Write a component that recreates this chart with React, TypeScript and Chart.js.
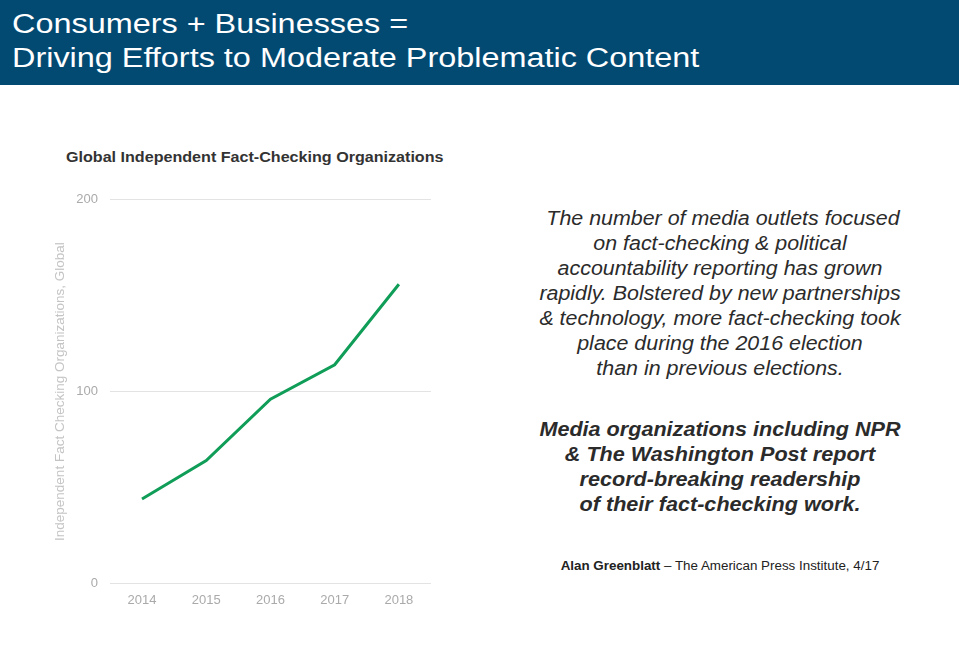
import React, { useEffect, useRef } from "react";
import { Chart, registerables } from "chart.js";

Chart.register(...registerables);

const years = ["2014", "2015", "2016", "2017", "2018"];
const orgCounts = [44, 64, 96, 114, 156];
const yTicks = [0, 100, 200];

const FONT = "Liberation Sans";
const CSS_FONT = '"Liberation Sans", sans-serif';

function LineChart() {
  const ref = useRef<HTMLCanvasElement | null>(null);
  useEffect(() => {
    if (!ref.current) return;
    const chart = new Chart(ref.current, {
      type: "line",
      data: {
        labels: years,
        datasets: [
          {
            label: "Independent Fact Checking Organizations, Global",
            data: orgCounts,
            borderColor: "#0f9d58",
            backgroundColor: "#0f9d58",
            borderWidth: 3,
            pointRadius: 0,
            tension: 0,
          },
        ],
      },
      options: {
        animation: false,
        responsive: false,
        maintainAspectRatio: false,
        layout: { padding: { top: 16, left: 1, right: 9, bottom: 0 } },
        plugins: { legend: { display: false }, tooltip: { enabled: false } },
        scales: {
          x: {
            offset: true,
            grid: { display: false },
            border: { display: false },
            ticks: { color: "#aaaaaa", font: { family: FONT, size: 13 }, padding: 1 },
          },
          y: {
            min: 0,
            max: 200,
            afterBuildTicks: (axis: any) => {
              axis.ticks = yTicks.map((v) => ({ value: v }));
            },
            grid: { color: "#e3e3e3", drawTicks: false, lineWidth: 1 },
            border: { display: false },
            ticks: { color: "#aaaaaa", font: { family: FONT, size: 13 }, padding: 12 },
            title: {
              display: true,
              text: "Independent Fact Checking Organizations, Global",
              color: "#c4c4c4",
              font: { family: FONT, size: 13.5 },
              padding: { top: 12, bottom: -4 },
            },
          },
        },
      },
    });
    return () => chart.destroy();
  }, []);
  return <canvas ref={ref} width={401} height={429} style={{ position: "absolute", left: 39, top: 180 }} />;
}

export default function App() {
  return (
    <div
      style={{
        position: "fixed",
        left: 0,
        top: 0,
        width: 959,
        height: 668,
        background: "#ffffff",
        fontFamily: CSS_FONT,
        overflow: "hidden",
      }}
    >
      <div
        style={{
          position: "absolute",
          left: 0,
          top: 0,
          width: 959,
          height: 85,
          background: "#034a73",
        }}
      />
      <div
        style={{
          position: "absolute",
          left: 12,
          top: 7,
          color: "#ffffff",
          fontSize: 27,
          lineHeight: "34px",
          whiteSpace: "nowrap",
          transform: "scaleX(1.2)",
          transformOrigin: "left top",
        }}
      >
        Consumers + Businesses =
        <br />
        Driving Efforts to Moderate Problematic Content
      </div>
      <div
        style={{
          position: "absolute",
          left: 66,
          top: 149,
          fontSize: 14,
          lineHeight: "16px",
          fontWeight: "bold",
          color: "#333333",
          whiteSpace: "nowrap",
          transform: "scaleX(1.15)",
          transformOrigin: "left top",
        }}
      >
        Global Independent Fact-Checking Organizations
      </div>
      <LineChart />
      <div
        style={{
          position: "absolute",
          left: 480,
          top: 206,
          width: 480,
          textAlign: "center",
          fontSize: 20,
          lineHeight: "25px",
          fontStyle: "italic",
          color: "#2b2b2b",
          whiteSpace: "nowrap",
          transform: "scaleX(1.07)",
          transformOrigin: "center top",
        }}
      >
        {"\u00a0The number of media outlets focused"}
        <br />
        on fact-checking &amp; political
        <br />
        accountability reporting has grown
        <br />
        rapidly. Bolstered by new partnerships
        <br />
        &amp; technology, more fact-checking took
        <br />
        place during the 2016 election
        <br />
        than in previous elections.
      </div>
      <div
        style={{
          position: "absolute",
          left: 480,
          top: 417,
          width: 480,
          textAlign: "center",
          fontSize: 20,
          lineHeight: "25px",
          fontStyle: "italic",
          fontWeight: "bold",
          color: "#2b2b2b",
          whiteSpace: "nowrap",
          transform: "scaleX(1.08)",
          transformOrigin: "center top",
        }}
      >
        Media organizations including NPR
        <br />
        &amp; The Washington Post report
        <br />
        record-breaking readership
        <br />
        of their fact-checking work.
      </div>
      <div
        style={{
          position: "absolute",
          left: 480,
          top: 558,
          width: 480,
          textAlign: "center",
          fontSize: 12.5,
          lineHeight: "16px",
          color: "#222222",
          whiteSpace: "nowrap",
          transform: "scaleX(1.07)",
          transformOrigin: "center top",
        }}
      >
        <b>Alan Greenblatt</b> – The American Press Institute, 4/17
      </div>
    </div>
  );
}
